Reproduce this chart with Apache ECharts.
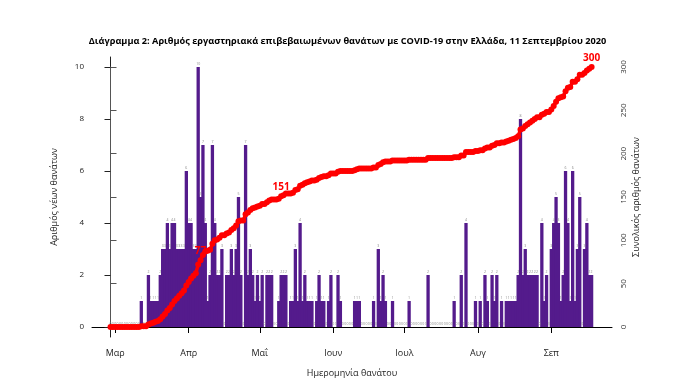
<!DOCTYPE html>
<html>
<head>
<meta charset="utf-8">
<script src="https://cdn.jsdelivr.net/npm/echarts@6/dist/echarts.min.js"></script>
<style>html,body{margin:0;padding:0;background:#fff}#c{width:695px;height:388px}</style>
</head>
<body>
<div id="c"></div>
<script>
// Daily new deaths (one value per day)
const dailyDeaths = [
 0,0,0,0,0,0,0,0,0,0,
 0,0,0,1,0,0,2,1,1,1,
 1,2,3,3,4,3,4,4,3,3,
 3,3,6,4,4,3,3,10,5,7,
 4,1,2,7,4,2,2,3,0,2,
 2,3,2,3,5,2,0,7,2,3,
 2,1,2,1,2,0,2,2,2,0,
 0,1,2,2,2,0,1,1,3,1,
 4,1,2,1,1,1,0,1,2,1,
 1,0,1,2,0,0,2,1,0,0,
 0,0,0,1,1,1,0,0,0,0,
 0,1,0,3,1,2,1,0,0,1,
 0,0,0,0,0,0,1,0,0,0,
 0,0,0,0,2,0,0,0,0,0,
 0,0,0,0,0,1,0,0,2,0,
 4,0,0,0,1,0,1,0,2,1,
 0,2,1,2,0,1,0,1,1,1,
 1,1,2,8,2,3,2,2,2,2,
 2,0,4,1,2,0,3,4,5,4,
 1,2,6,4,1,6,1,3,5,0,
 3,4,2,2
];
// Total deaths
const cumulativeDeaths = [
 0,0,0,0,0,0,0,0,0,0,
 0,0,0,1,1,1,3,4,5,6,
 7,9,12,15,19,22,26,30,33,36,
 39,42,48,52,56,59,62,72,77,83,
 87,88,89,96,100,101,103,106,106,108,
 109,112,114,117,122,123,123,130,132,135,
 137,138,139,140,142,142,144,146,147,147,
 147,148,151,152,154,154,154,155,158,159,
 163,164,166,167,168,169,169,170,172,173,
 174,174,175,177,177,177,179,180,180,180,
 180,180,180,181,182,183,183,183,183,183,
 183,184,184,187,188,190,191,191,191,192,
 192,192,192,192,192,192,193,193,193,193,
 193,193,193,193,195,195,195,195,195,195,
 195,195,195,195,195,196,196,196,198,198,
 202,202,202,202,203,203,204,204,206,207,
 207,209,210,212,212,213,213,214,215,216,
 217,218,220,228,229,232,234,236,238,240,
 242,242,245,246,248,248,251,255,260,264,
 265,266,272,276,277,283,283,286,291,291,
 293,296,298,300
];
const monthTickDays = [2, 33, 63, 94, 124, 155, 186];
const monthLabels = ['Μαρ', 'Απρ', 'Μαΐ', 'Ιουν', 'Ιουλ', 'Αυγ', 'Σεπ'];
const leftTicks = [0, 2, 4, 6, 8, 10];
const rightTicks = [0, 50, 100, 150, 200, 250, 300];
const labelledDays = [38, 72, 203];

const FONT = 'Open Sans';
const barData = dailyDeaths.map((v, i) => [i, v]);
const lineData = cumulativeDeaths.map((v, i) => labelledDays.indexOf(i) >= 0 ?
  {value: [i, v], label: {show: true, position: 'top', distance: 1, color: '#ff0000',
    fontWeight: 'bold', fontSize: 10, fontFamily: FONT, formatter: p => p.value[1]}} : [i, v]);

const chart = echarts.init(document.getElementById('c'), null, {renderer: 'canvas'});
chart.setOption({
  animation: false,
  backgroundColor: '#ffffff',
  title: {
    text: 'Διάγραμμα 2: Αριθμός εργαστηριακά επιβεβαιωμένων θανάτων με COVID-19 στην Ελλάδα, 11 Σεπτεμβρίου 2020',
    left: 'center', top: 32,
    textStyle: {fontFamily: FONT, fontSize: 9.2, fontWeight: 'bold', color: '#000'}
  },
  grid: [
    {left: 92, right: 83, top: 57, bottom: 51},
    {left: 92, right: 83, top: 67, bottom: 61}
  ],
  xAxis: [
    {type: 'value', gridIndex: 0, min: -18.5 / 2.37, max: 501.5 / 2.37,
     axisLine: {show: true, lineStyle: {color: '#000', width: 1}},
     axisTick: {show: true, length: 6, customValues: monthTickDays, lineStyle: {color: '#000'}},
     axisLabel: {show: true, customValues: monthTickDays, margin: 12,
       formatter: v => monthLabels[monthTickDays.indexOf(Math.round(v))] || '',
       fontFamily: FONT, fontSize: 9, color: '#222'},
     splitLine: {show: false},
     name: 'Ημερομηνία θανάτου', nameLocation: 'middle', nameGap: 32, nameMoveOverlap: false,
     nameTextStyle: {fontFamily: FONT, fontSize: 9, color: '#222'}},
    {type: 'value', gridIndex: 1, min: -18.5 / 2.37, max: 501.5 / 2.37, show: false}
  ],
  yAxis: [
    {type: 'value', gridIndex: 0, position: 'left', min: -10 / 26, max: 10 + 10 / 26,
     axisLine: {show: true, lineStyle: {color: '#222', width: 1}},
     axisTick: {show: true, length: 6, customValues: leftTicks, lineStyle: {color: '#222'}},
     axisLabel: {show: true, customValues: leftTicks, margin: 8, fontFamily: FONT, fontSize: 8, color: '#222'},
     splitLine: {show: false},
     name: 'Αριθμός νέων θανάτων', nameLocation: 'middle', nameGap: 33, nameRotate: 90, nameMoveOverlap: false,
     nameTextStyle: {fontFamily: FONT, fontSize: 9, color: '#222'}},
    {type: 'value', gridIndex: 0, position: 'right', min: -300 / 26, max: 300 + 300 / 26, show: false},
    {type: 'value', gridIndex: 1, position: 'right', min: 0, max: 300, interval: 50,
     axisLine: {show: true, lineStyle: {color: '#555', width: 1}},
     axisTick: {show: true, length: 6, lineStyle: {color: '#555'}},
     axisLabel: {show: true, rotate: 90, margin: 8, fontFamily: FONT, fontSize: 8, color: '#333'},
     splitLine: {show: false},
     name: 'Συνολικός αριθμός θανάτων', nameLocation: 'middle', nameGap: 20, nameRotate: 90, nameMoveOverlap: false,
     nameTextStyle: {fontFamily: FONT, fontSize: 9, color: '#222'}}
  ],
  series: [
    {type: 'bar', xAxisIndex: 0, yAxisIndex: 0, data: barData, barWidth: 3.3,
     itemStyle: {color: '#541b8c'},
     label: {show: true, position: 'top', distance: 1, fontSize: 3.5, color: '#888', fontFamily: FONT,
       formatter: p => p.value[1]},
     z: 2},
    {type: 'line', xAxisIndex: 0, yAxisIndex: 1, data: lineData,
     symbol: 'circle', symbolSize: 6, showSymbol: true,
     itemStyle: {color: '#ff0000'}, lineStyle: {color: '#ff0000', width: 3.5},
     z: 3}
  ]
});
</script>
</body>
</html>
